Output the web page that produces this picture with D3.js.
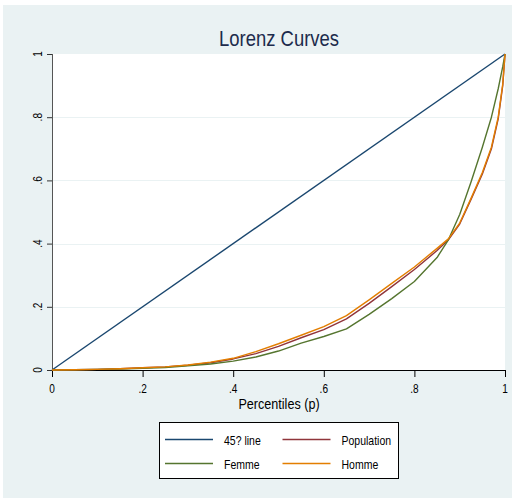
<!DOCTYPE html>
<html>
<head>
<meta charset="utf-8">
<script src="https://cdn.jsdelivr.net/npm/d3@7"></script>
<style>
  html, body { margin: 0; padding: 0; background: #fff; }
  svg { display: block; }
  text { font-family: "Liberation Sans", Arial, sans-serif; }
</style>
</head>
<body>
<svg id="chart" width="512" height="500"></svg>
<script>
/* ── data ──────────────────────────────────────────────────── */

const pctl       = [0, .05, .1, .15, .2, .25, .3, .35, .4, .45, .5, .55, .6, .65, .7, .75, .8, .85, .875, .9, .925, .95, .97, .985, .995, 1];
const population = [0, .001, .002, .004, .007, .010, .015, .023, .035, .052, .075, .102, .128, .162, .211, .264, .318, .378, .412, .462, .540, .620, .700, .795, .900, 1];
const femme      = [0, .001, .002, .003, .005, .008, .013, .019, .028, .041, .060, .085, .106, .130, .176, .226, .280, .356, .412, .492, .595, .705, .800, .890, .960, 1];
const homme      = [0, .001, .002, .004, .007, .010, .016, .025, .037, .058, .083, .110, .137, .172, .222, .274, .326, .385, .415, .465, .543, .625, .705, .800, .905, 1];
const diagP      = [0, 1];
const diagL      = [0, 1];

const xTicks      = [0, .2, .4, .6, .8, 1];
const xTickLabels = ["0", ".2", ".4", ".6", ".8", "1"];
const yTicks      = [0, .2, .4, .6, .8, 1];
const yTickLabels = ["0", ".2", ".4", ".6", ".8", "1"];

const seriesNames  = ["45? line", "Population", "Femme", "Homme"];
const seriesColors = ["#1a476f", "#90353b", "#55752f", "#e37e00"];

/* ── layout ────────────────────────────────────────────────── */

const W = 512, H = 500;
const plot = { l: 52, r: 505, t: 54, b: 370 };
const SX = 0.84; // narrow-looking text

const svg = d3.select("#chart");

const x = d3.scaleLinear().domain([0, 1]).range([plot.l, plot.r]);
const y = d3.scaleLinear().domain([0, 1]).range([plot.b, plot.t]);

function label(g, px, py, str, size, opts = {}) {
  const t = g.append("g")
    .attr("transform", `translate(${px},${py}) rotate(${opts.rotate || 0}) scale(${SX},1)`)
    .append("text")
    .attr("text-anchor", opts.anchor || "middle")
    .attr("font-size", size)
    .attr("fill", opts.fill || "#000")
    .text(str);
  return t;
}

// outer region
svg.append("rect").attr("x", 3).attr("y", 5).attr("width", W - 3).attr("height", H - 7)
  .attr("fill", "#eaf2f3");

// plot region
svg.append("rect")
  .attr("x", plot.l).attr("y", plot.t)
  .attr("width", plot.r - plot.l).attr("height", plot.b - plot.t)
  .attr("fill", "#fff");

// gridlines
svg.append("g").selectAll("line")
  .data(yTicks.filter(d => d > 0 && d < 1))
  .join("line")
  .attr("x1", plot.l).attr("x2", plot.r)
  .attr("y1", d => Math.round(y(d)) + 0.5).attr("y2", d => Math.round(y(d)) + 0.5)
  .attr("stroke", "#eaf2f3").attr("stroke-width", 1.2);

// title
label(svg, 279, 46, "Lorenz Curves", 22, { fill: "#1c2b4c" });

/* ── axes ──────────────────────────────────────────────────── */

const xAxis = svg.append("g")
  .attr("transform", `translate(0,${plot.b})`)
  .call(d3.axisBottom(x).tickValues(xTicks).tickSize(7).tickFormat(""));
xAxis.select(".domain").attr("stroke", "#000").attr("d", `M${plot.l},0.5H${plot.r}`);
xAxis.selectAll(".tick line").attr("stroke", "#000");
xTicks.forEach((v, i) => label(svg, x(v), 393, xTickLabels[i], 12));

const yAxis = svg.append("g")
  .attr("transform", `translate(${plot.l},0)`)
  .call(d3.axisLeft(y).tickValues(yTicks).tickSize(5).tickFormat(""));
yAxis.select(".domain").attr("stroke", "#555").attr("d", `M0.5,${plot.t}V${plot.b}`);
yAxis.selectAll(".tick line").attr("stroke", "#333");
yTicks.forEach((v, i) => label(svg, 42, y(v), yTickLabels[i], 12, { rotate: -90 }));

label(svg, 279, 409, "Percentiles (p)", 15);

/* ── curves ────────────────────────────────────────────────── */

const line = d3.line().x(d => x(d[0])).y(d => y(d[1]));
const curves = [
  d3.zip(diagP, diagL),
  d3.zip(pctl, population),
  d3.zip(pctl, femme),
  d3.zip(pctl, homme),
];

svg.append("g").selectAll("path")
  .data(curves)
  .join("path")
  .attr("d", line)
  .attr("fill", "none")
  .attr("stroke", (d, i) => seriesColors[i])
  .attr("stroke-width", 1.4)
  .attr("stroke-linejoin", "round");

/* ── legend ────────────────────────────────────────────────── */

const leg = svg.append("g");
leg.append("rect")
  .attr("x", 159.5).attr("y", 422.5).attr("width", 239).attr("height", 56)
  .attr("fill", "#fff").attr("stroke", "#000").attr("stroke-width", 1);

seriesNames.forEach((name, i) => {
  const col = i % 2, row = Math.floor(i / 2);
  const lx = 165 + col * 117.5;
  const ly = 439.5 + row * 24;
  leg.append("line")
    .attr("x1", lx).attr("x2", lx + 48)
    .attr("y1", ly).attr("y2", ly)
    .attr("stroke", seriesColors[i]).attr("stroke-width", 1.4);
  label(leg, lx + 59, ly + 5, name, 12.5, { anchor: "start" });
});
</script>
</body>
</html>
